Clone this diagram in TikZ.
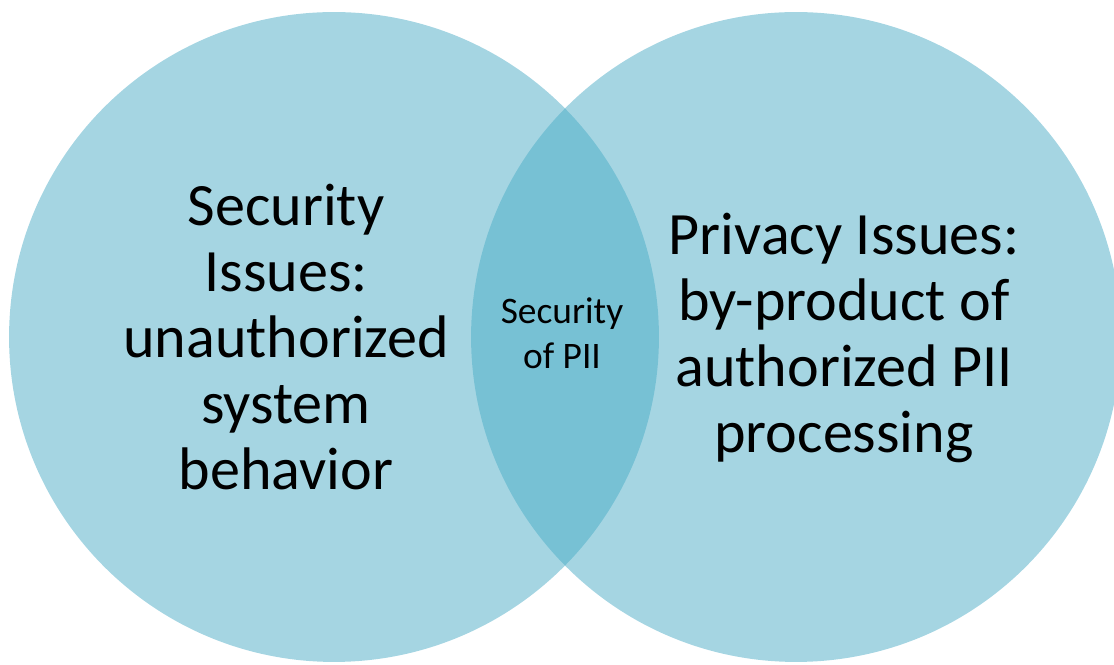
\documentclass[tikz,border=0pt]{standalone}
\usepackage{fontspec}
\setmainfont{Carlito}
\usepackage{xcolor}
\usepackage{tikz}
\usetikzlibrary{positioning}

\definecolor{aqua}{HTML}{4BACC6}

\begin{document}
\begin{tikzpicture}[
    x=0.02cm, y=0.02cm,
    set/.style={circle, fill=aqua, fill opacity=0.5, text opacity=1, minimum size=13cm, inner sep=0pt},
    bigtext/.style={align=center, font=\fontsize{34.2}{37.6}\selectfont, text=black},
    smalltext/.style={align=center, font=\fontsize{21.3}{25.6}\selectfont, text=black}
]
\clip (0,0) rectangle (1114,665);
\useasboundingbox (0,0) rectangle (1114,665);

% Two overlapping sets
\node[set] (security) at (334,328) {};
\node[set] (privacy) at (796,328) {};

% Labels
\node[bigtext] (seclabel) at (286,328) {Security\\Issues:\\unauthorized\\system\\behavior};
\node[bigtext] (privlabel) at (844,327) {Privacy Issues:\\by-product of\\authorized PII\\processing};
\node[smalltext] (overlap) at (562,332) {Security\\of PII};

\end{tikzpicture}
\end{document}
